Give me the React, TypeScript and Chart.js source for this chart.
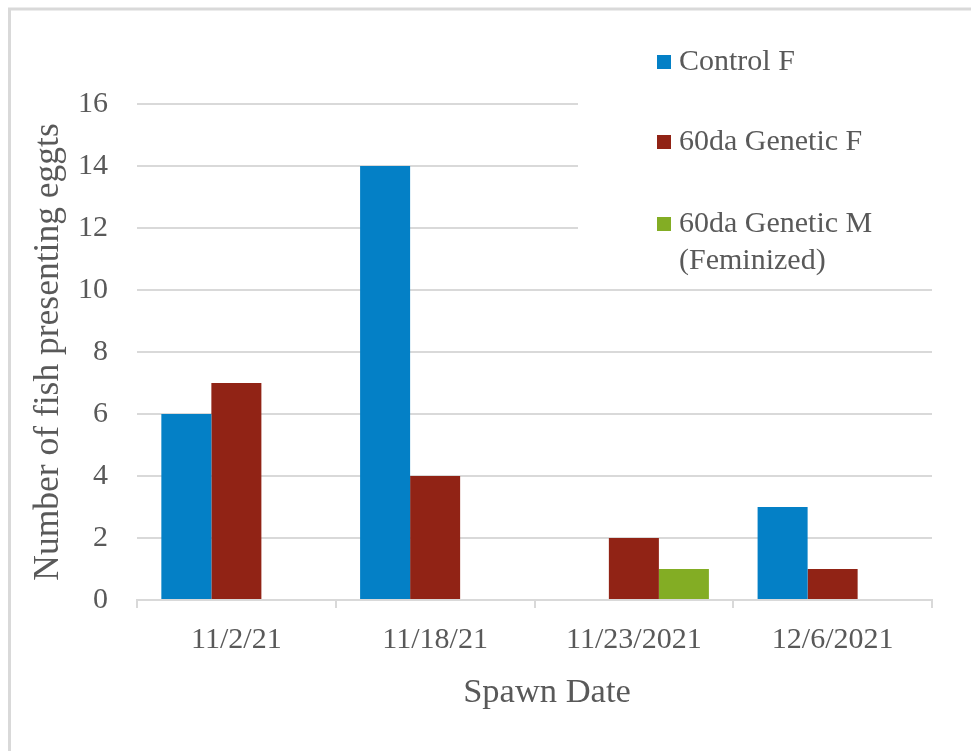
import React, { useEffect, useRef } from "react";
import { Chart, registerables } from "chart.js";

Chart.register(...registerables);

const categories = ["11/2/21", "11/18/21", "11/23/2021", "12/6/2021"];
const controlF = [6, 14, 0, 3];
const geneticF = [7, 4, 2, 1];
const geneticM = [0, 0, 1, 0];
const seriesNames = ["Control F", "60da Genetic F", ["60da Genetic M", "(Feminized)"]];
const seriesColors = ["#0480C6", "#912315", "#83AD24"];
const xTitle = "Spawn Date";
const yTitle = "Number of fish presenting eggts";

const TEXT = "#595959";
const GRID = "#D9D9D9";
const FONT = "'Liberation Serif', 'Times New Roman', serif";

// Legend sits in the upper-right of the plot on a white panel; frame lines on top and left.
const framePlugin = {
  id: "frameAndLegend",
  beforeDatasetsDraw(chart: any) {
    const { ctx, chartArea } = chart;
    ctx.save();
    ctx.fillStyle = "#FFFFFF";
    ctx.fillRect(578, chartArea.top - 8, chartArea.right + 10 - 578, 280 - chartArea.top + 8);
    ctx.restore();
  },
  afterDraw(chart: any) {
    const { ctx } = chart;
    ctx.save();
    ctx.strokeStyle = GRID;
    ctx.lineWidth = 3;
    ctx.beginPath();
    ctx.moveTo(9.5, 751);
    ctx.lineTo(9.5, 9);
    ctx.lineTo(971, 9);
    ctx.stroke();

    // x-axis title
    ctx.fillStyle = TEXT;
    ctx.font = `34.5px ${FONT}`;
    ctx.textAlign = "center";
    ctx.textBaseline = "middle";
    ctx.fillText(xTitle, 547, 693);

    // legend
    ctx.font = `30px ${FONT}`;
    ctx.textAlign = "left";
    const rowY = [62, 142, 224];
    seriesNames.forEach((name, i) => {
      const y = rowY[i];
      ctx.fillStyle = seriesColors[i];
      ctx.fillRect(657, y - 7, 14, 14);
      ctx.fillStyle = TEXT;
      const lines = Array.isArray(name) ? name : [name];
      lines.forEach((ln, j) => ctx.fillText(ln, 679, y + j * 37));
    });
    ctx.restore();
  },
};

export default function App() {
  const ref = useRef<HTMLCanvasElement | null>(null);

  useEffect(() => {
    document.body.style.margin = "0";
    const canvas = ref.current;
    if (!canvas) return;
    const chart = new Chart(canvas, {
      type: "bar",
      data: {
        labels: categories,
        datasets: [
          { label: "Control F", data: controlF, backgroundColor: seriesColors[0] },
          { label: "60da Genetic F", data: geneticF, backgroundColor: seriesColors[1] },
          { label: "60da Genetic M (Feminized)", data: geneticM, backgroundColor: seriesColors[2] },
        ],
      },
      options: {
        responsive: false,
        animation: false,
        events: [],
        layout: { padding: { top: 104, right: 39, bottom: 0, left: 0 } },
        datasets: {
          bar: { categoryPercentage: 0.755, barPercentage: 1, borderWidth: 0 },
        },
        plugins: {
          legend: { display: false },
          tooltip: { enabled: false },
        },
        scales: {
          x: {
            afterFit(scale: any) {
              scale.height = 151;
            },
            grid: {
              drawOnChartArea: false,
              drawTicks: true,
              tickLength: 8,
              color: GRID,
              lineWidth: 2,
            },
            border: { display: true, color: GRID, width: 2 },
            ticks: {
              color: TEXT,
              padding: 14,
              font: { family: FONT, size: 30 },
            },
            title: { display: false, text: xTitle },
          },
          y: {
            min: 0,
            max: 16,
            afterFit(scale: any) {
              scale.width = 137;
            },
            ticks: {
              stepSize: 2,
              color: TEXT,
              padding: 29,
              font: { family: FONT, size: 30 },
            },
            grid: { color: GRID, lineWidth: 2, drawTicks: false },
            border: { display: false },
            title: {
              display: true,
              text: yTitle,
              color: TEXT,
              font: { family: FONT, size: 35.5 },
              padding: { top: 27, bottom: 0 },
            },
          },
        },
      },
      plugins: [framePlugin],
    });
    return () => chart.destroy();
  }, []);

  return (
    <div style={{ width: 971, height: 751, background: "#FFFFFF" }}>
      <canvas ref={ref} width={971} height={751} />
    </div>
  );
}
